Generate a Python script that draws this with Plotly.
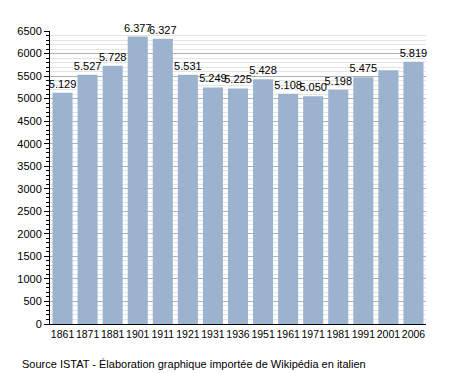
import plotly.graph_objects as go

years = ["1861", "1871", "1881", "1901", "1911", "1921", "1931", "1936",
         "1951", "1961", "1971", "1981", "1991", "2001", "2006"]
population = [5129, 5527, 5728, 6377, 6327, 5531, 5249, 5225,
              5428, 5108, 5050, 5198, 5475, 5630, 5819]
bar_labels = ["5.129", "5.527", "5.728", "6.377", "6.327", "5.531", "5.249", "5.225",
              "5.428", "5.108", "5.050", "5.198", "5.475", "", "5.819"]
y_ticks = list(range(0, 6501, 500))

fig = go.Figure(go.Bar(
    x=years, y=population, text=bar_labels,
    textposition="outside", cliponaxis=False,
    textfont=dict(size=11, color="#000000"),
    marker=dict(color="#9bb3cf", line=dict(width=0)),
))

fig.update_layout(
    width=455, height=373,
    margin=dict(l=50, r=29, t=31, b=49, autoexpand=False),
    paper_bgcolor="white", plot_bgcolor="white",
    font=dict(family="Liberation Sans, Arial, sans-serif", size=11, color="#000000"),
    bargap=0.2,
    showlegend=False,
    uniformtext=dict(minsize=11, mode="show"),
)
fig.update_xaxes(
    type="category", showline=True, linecolor="#000000", linewidth=1,
    ticks="", showgrid=False, tickfont=dict(size=10.5), tickangle=0,
    automargin=False,
)
fig.update_yaxes(
    range=[0, 6500], tickvals=y_ticks, showline=True, linecolor="#000000",
    linewidth=1, ticks="outside", ticklen=5, tickcolor="#000000",
    showgrid=True, gridcolor="#b0b0b0", gridwidth=1, zeroline=False,
    tickfont=dict(size=11), automargin=False,
    minor=dict(dtick=100, showgrid=True, gridcolor="#e4e4e4", gridwidth=1,
               ticks="outside", ticklen=3, tickcolor="#000000"),
)

fig.add_annotation(
    text="Source ISTAT - Élaboration graphique importée de Wikipédia en italien",
    xref="paper", yref="paper", x=-0.08, y=-0.11, xanchor="left", yanchor="top",
    showarrow=False, font=dict(size=11, color="#000000"),
)

fig.write_html("out.html", config={"displayModeBar": False},
               post_script="document.body.style.margin='0';")
